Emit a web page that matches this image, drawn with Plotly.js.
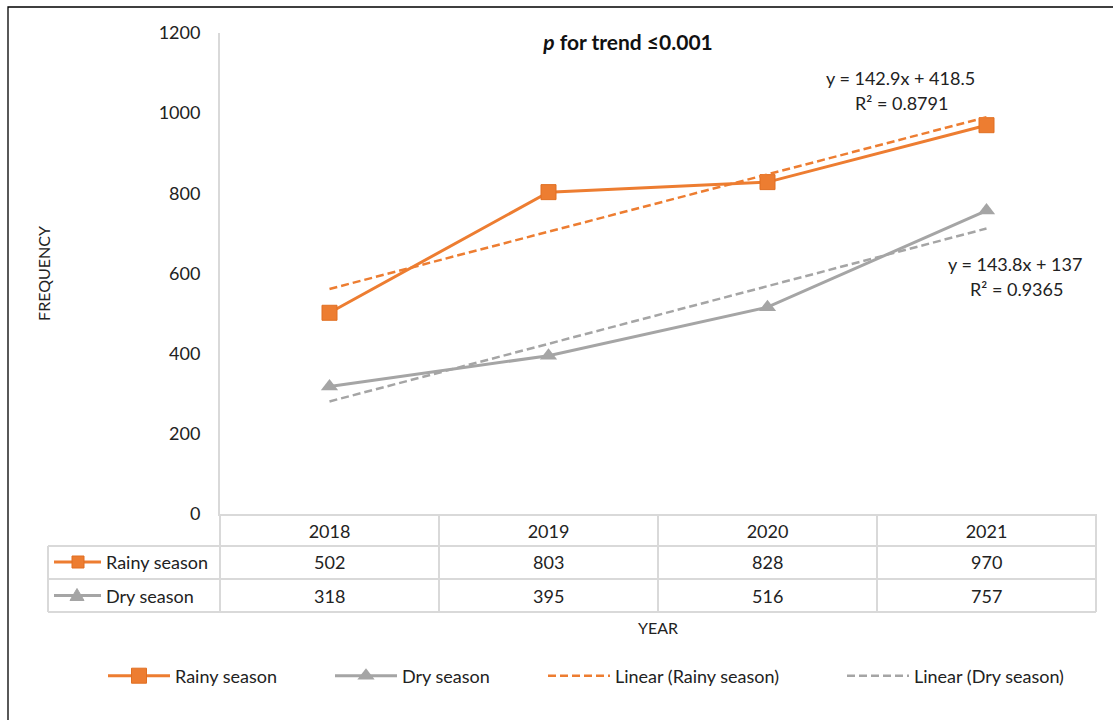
<!DOCTYPE html>
<html>
<head>
<meta charset="utf-8">
<script src="https://cdn.plot.ly/plotly-3.0.1.min.js"></script>
<style>html,body{margin:0;padding:0;background:#fff;}#chart{width:1113px;height:720px;}</style>
</head>
<body>
<div id="chart"></div>
<script>
// ---- data ----
const years = ['2018', '2019', '2020', '2021'];
const rainy = [502, 803, 828, 970];
const dry = [318, 395, 516, 757];
// linear trend values (from the equations shown on the chart)
const trendRainy = [561.4, 704.3, 847.2, 990.1];
const trendDry = [280.8, 424.6, 568.4, 712.2];
const seriesNames = ['Rainy season', 'Dry season', 'Linear (Rainy season)', 'Linear (Dry season)'];
const eqRainy = ['y = 142.9x + 418.5', 'R² = 0.8791'];
const eqDry = ['y = 143.8x + 137', 'R² = 0.9365'];
const chartTitle = '<b><i>p</i> for trend ≤0.001</b>';
const xTitle = 'YEAR';
const yTitle = 'FREQUENCY';

// ---- styling ----
const ORANGE = '#ED7D31';
const GRAY = '#A5A5A5';
const GRID = '#D9D9D9';
const TXT = '#222222';
const FONT = 'Lato, "Open Sans", sans-serif';
const FS = 18;

// pixel geometry helpers (plot area: x 220..1096, y 33..514)
const L = 220, R = 1096, T = 33, B = 514;
const px = x => (x - L) / (R - L);
const py = y => (B - y) / (B - T);

const traces = [
  {x: years, y: rainy, name: seriesNames[0], type: 'scatter', mode: 'lines+markers',
   line: {color: ORANGE, width: 3}, marker: {symbol: 'square', size: 15, color: ORANGE, line: {color: '#E06F22', width: 1}},
   legend: 'legend'},
  {x: years, y: dry, name: seriesNames[1], type: 'scatter', mode: 'lines+markers',
   line: {color: GRAY, width: 3}, marker: {symbol: 'triangle-up', size: 15, color: GRAY},
   legend: 'legend2'},
  {x: years, y: trendRainy, name: seriesNames[2], type: 'scatter', mode: 'lines',
   line: {color: ORANGE, width: 2.5, dash: '8px,4px'}, legend: 'legend3'},
  {x: years, y: trendDry, name: seriesNames[3], type: 'scatter', mode: 'lines',
   line: {color: GRAY, width: 2.5, dash: '8px,4px'}, legend: 'legend4'}
];

// table rows (pixel centers)
const rowY = {header: 530, rainy: 562, dry: 595.5};
const shapes = [];
const annotations = [];

// outer border (only left/top visible)
shapes.push({type: 'rect', xref: 'paper', yref: 'paper', x0: px(8), x1: px(1125), y0: py(7), y1: py(735),
  line: {color: '#000', width: 1.3}, fillcolor: 'rgba(0,0,0,0)'});

// table horizontal lines
[546, 579, 612].forEach(y => shapes.push({type: 'line', xref: 'paper', yref: 'paper',
  x0: px(48), x1: 1, y0: py(y), y1: py(y), line: {color: GRID, width: 2}}));
// table vertical lines at category boundaries
for (let k = 0; k <= years.length; k++) {
  shapes.push({type: 'line', xref: 'paper', yref: 'paper', x0: k / years.length, x1: k / years.length,
    y0: py(B), y1: py(612), line: {color: GRID, width: 2}});
}
shapes.push({type: 'line', xref: 'paper', yref: 'paper', x0: px(48), x1: px(48), y0: py(546), y1: py(612),
  line: {color: GRID, width: 2}});

// table legend keys
shapes.push({type: 'line', xref: 'paper', yref: 'paper', x0: px(54), x1: px(101), y0: py(rowY.rainy), y1: py(rowY.rainy),
  line: {color: ORANGE, width: 3}});
shapes.push({type: 'rect', xref: 'paper', yref: 'paper', xsizemode: 'pixel', ysizemode: 'pixel',
  xanchor: px(78), yanchor: py(rowY.rainy), x0: -6, x1: 6, y0: -6, y1: 6,
  fillcolor: ORANGE, line: {color: '#E06F22', width: 1}});
shapes.push({type: 'line', xref: 'paper', yref: 'paper', x0: px(54), x1: px(101), y0: py(rowY.dry), y1: py(rowY.dry),
  line: {color: GRAY, width: 3}});
shapes.push({type: 'path', xref: 'paper', yref: 'paper', xsizemode: 'pixel', ysizemode: 'pixel',
  xanchor: px(77), yanchor: py(rowY.dry), path: 'M -7 -5 L 7 -5 L 0 7 Z',
  fillcolor: GRAY, line: {color: GRAY, width: 1}});

// row labels
annotations.push({xref: 'paper', yref: 'paper', x: px(104), y: py(rowY.rainy), xanchor: 'left', yanchor: 'middle',
  text: seriesNames[0], showarrow: false, font: {family: FONT, size: FS, color: TXT}});
annotations.push({xref: 'paper', yref: 'paper', x: px(104), y: py(rowY.dry), xanchor: 'left', yanchor: 'middle',
  text: seriesNames[1], showarrow: false, font: {family: FONT, size: FS, color: TXT}});

// cell values
years.forEach((yr, i) => {
  annotations.push({xref: 'x', yref: 'paper', x: i, y: py(rowY.rainy), text: String(rainy[i]),
    showarrow: false, xanchor: 'center', yanchor: 'middle', font: {family: FONT, size: FS, color: TXT}});
  annotations.push({xref: 'x', yref: 'paper', x: i, y: py(rowY.dry), text: String(dry[i]),
    showarrow: false, xanchor: 'center', yanchor: 'middle', font: {family: FONT, size: FS, color: TXT}});
});

// trendline equations
const eqFont = {family: FONT, size: FS, color: TXT};
const eq = (x, y, t) => ({xref: 'paper', yref: 'paper', x: px(x), y: py(y), text: t, showarrow: false,
  xanchor: 'center', yanchor: 'middle', font: eqFont});
annotations.push(eq(900, 78, eqRainy[0]));
annotations.push(eq(901, 103, eqRainy[1]));
annotations.push(eq(1015, 264, eqDry[0]));
annotations.push(eq(1016, 289, eqDry[1]));

const legendBase = {orientation: 'h', xanchor: 'left', yanchor: 'middle', yref: 'paper', y: py(676),
  bgcolor: 'rgba(0,0,0,0)', borderwidth: 0, itemwidth: 62, font: {family: FONT, size: FS, color: TXT}};

const layout = {
  width: 1113, height: 720,
  margin: {l: L, r: 1113 - R, t: T, b: 720 - B, pad: 0},
  paper_bgcolor: '#fff', plot_bgcolor: '#fff',
  font: {family: FONT, size: FS, color: TXT},
  title: {text: chartTitle, x: 628 / 1113, xanchor: 'center', y: 1 - 43 / 720, yanchor: 'middle',
    font: {family: FONT, size: 21, color: '#111'}},
  xaxis: {type: 'category', range: [-0.5, 3.5], showgrid: false, zeroline: false, showline: true,
    linecolor: GRID, linewidth: 2, ticks: '', tickfont: {family: FONT, size: FS, color: TXT},
    title: {text: xTitle, standoff: 82, font: {family: FONT, size: 16, color: TXT}}},
  yaxis: {range: [0, 1200], dtick: 200, tick0: 0, showgrid: false, zeroline: false, showline: true,
    linecolor: GRID, linewidth: 2, ticks: '', ticklabelstandoff: 14, tickfont: {family: FONT, size: FS, color: TXT},
    title: {text: yTitle, standoff: 104, font: {family: FONT, size: 16, color: TXT}}},
  showlegend: true,
  legend: Object.assign({}, legendBase, {x: px(103)}),
  legend2: Object.assign({}, legendBase, {x: px(330)}),
  legend3: Object.assign({}, legendBase, {x: px(543)}),
  legend4: Object.assign({}, legendBase, {x: px(842)}),
  shapes: shapes,
  annotations: annotations
};

Plotly.newPlot('chart', traces, layout, {displayModeBar: false, staticPlot: true});
</script>
</body>
</html>
